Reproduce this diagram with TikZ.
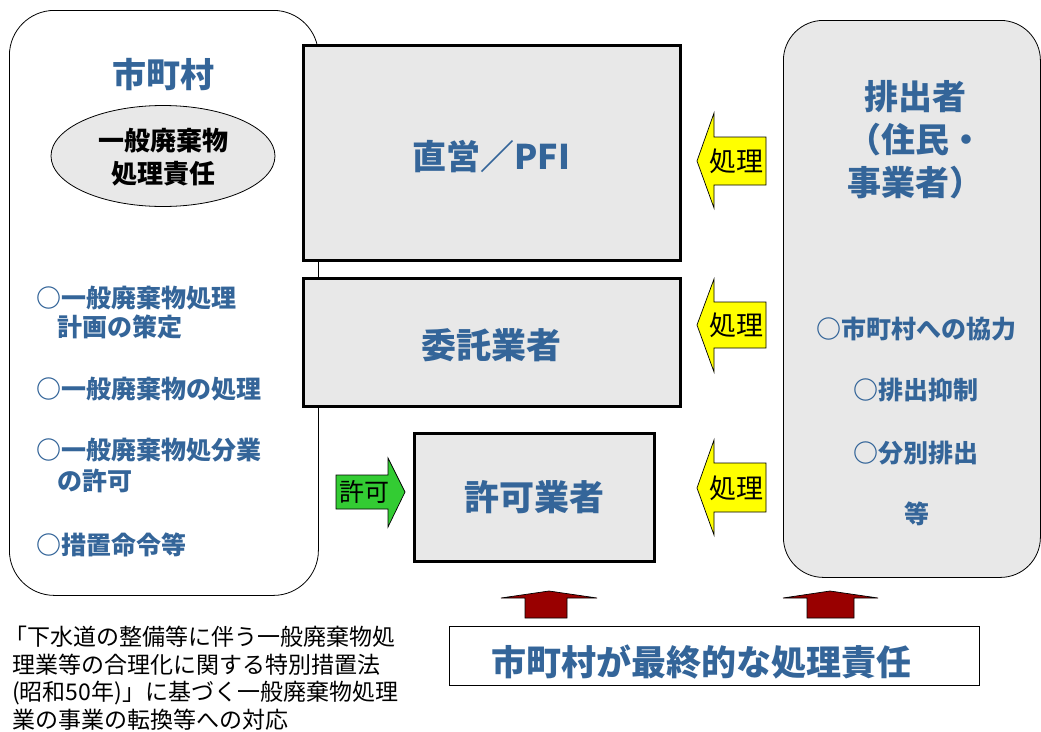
\documentclass[tikz,border=0pt]{standalone}
\usepackage{fontspec}
\usetikzlibrary{shapes.geometric}
\newfontfamily\jp{Noto Sans CJK JP}
\definecolor{txtblue}{RGB}{52,101,153}
\definecolor{boxgray}{RGB}{232,232,232}
\definecolor{arrowred}{RGB}{153,0,0}
\definecolor{arrowgreen}{RGB}{51,204,51}
\definecolor{arrowyellow}{RGB}{255,255,0}
\tikzset{
  outerbox/.style={draw=black, line width=0.8pt, anchor=north west, inner sep=0pt},
  procbox/.style={draw=black, fill=boxgray, line width=2.6pt, anchor=north west, inner sep=0pt},
  bluetxt/.style={text=txtblue, font=\jp\bfseries, inner sep=0pt},
  blacklbl/.style={text=black, font=\jp, inner sep=0pt},
  yarrow/.style={draw=black, fill=arrowyellow, line width=0.7pt, line join=miter},
  garrow/.style={draw=black, fill=arrowgreen, line width=0.7pt, line join=miter},
  rarrow/.style={draw=black, fill=arrowred, line width=0.7pt, line join=miter},
}
\newcommand{\fsz}[2]{\fontsize{#1}{#2}\selectfont}
\begin{document}
\begin{tikzpicture}[x=1pt,y=-1pt]
\useasboundingbox (0,0) rectangle (1041,731);
\fill[white] (0,0) rectangle (1041,731);

% left municipality box
\node[outerbox, fill=white, rounded corners=45pt, minimum width=309pt, minimum height=585pt] (muni) at (9,10) {};
\node[bluetxt, font=\jp\bfseries\fsz{34}{40}] (munititle) at (163,75) {市町村};
\node[draw=black, fill=boxgray, line width=0.8pt, ellipse, minimum width=224pt, minimum height=101pt, inner sep=0pt] (resp) at (163,156) {};
\node[inner sep=0pt, align=center, font=\jp\bfseries\fsz{26}{33}] (resptxt) at (163,157) {一般廃棄物\\処理責任};

\node[bluetxt, anchor=west, align=left, font=\jp\bfseries\fsz{25}{29}] (m1) at (36,312.5) {○一般廃棄物処理\\\hspace*{0.85em}計画の策定};
\node[bluetxt, anchor=west, font=\jp\bfseries\fsz{25}{29}] (m2) at (36,389) {○一般廃棄物の処理};
\node[bluetxt, anchor=west, align=left, font=\jp\bfseries\fsz{25}{31}] (m3) at (36,465.5) {○一般廃棄物処分業\\\hspace*{0.85em}の許可};
\node[bluetxt, anchor=west, font=\jp\bfseries\fsz{25}{29}] (m4) at (36,545) {○措置命令等};

% right emitters box
\node[outerbox, fill=boxgray, rounded corners=40pt, minimum width=257pt, minimum height=557pt] (emit) at (783,20) {};
\node[bluetxt, align=center, font=\jp\bfseries\fsz{34}{43}] (emittitle) at (915,140) {排出者\\（住民・\\事業者）};
\node[bluetxt, font=\jp\bfseries\fsz{25}{29}] (e1) at (916,329) {○市町村への協力};
\node[bluetxt, font=\jp\bfseries\fsz{25}{29}] (e2) at (916,390) {○排出抑制};
\node[bluetxt, font=\jp\bfseries\fsz{25}{29}] (e3) at (916,453) {○分別排出};
\node[bluetxt, font=\jp\bfseries\fsz{25}{29}] (e4) at (917,514) {等};

% process boxes
\node[procbox, minimum width=377pt, minimum height=215pt] (direct) at (302,44) {};
\node[bluetxt, font=\jp\bfseries\fsz{34}{40}] (directtxt) at (491,157) {直営／PFI};
\node[procbox, minimum width=377pt, minimum height=128pt] (consign) at (302,277) {};
\node[bluetxt, font=\jp\bfseries\fsz{35}{40}] (consigntxt) at (491,345) {委託業者};
\node[procbox, minimum width=240pt, minimum height=128pt] (permit) at (413,432) {};
\node[bluetxt, font=\jp\bfseries\fsz{35}{40}] (permittxt) at (534,497) {許可業者};

% yellow arrows (処理)
\draw[yarrow] (697,161) -- (714,113) -- (714,137) -- (766,137) -- (766,185) -- (714,185) -- (714,208) -- cycle;
\node[blacklbl, font=\jp\fsz{27}{30}] (y1) at (736,161) {処理};
\draw[yarrow] (697,325) -- (714,279) -- (714,302) -- (766,302) -- (766,348) -- (714,348) -- (714,372) -- cycle;
\node[blacklbl, font=\jp\fsz{27}{30}] (y2) at (736,325) {処理};
\draw[yarrow] (697,488) -- (714,440) -- (714,463) -- (766,463) -- (766,512) -- (714,512) -- (714,535) -- cycle;
\node[blacklbl, font=\jp\fsz{27}{30}] (y3) at (736,488) {処理};

% green arrow (許可)
\draw[garrow] (336,475) -- (388,475) -- (388,458) -- (405,492) -- (388,527) -- (388,509) -- (336,509) -- cycle;
\node[blacklbl, font=\jp\fsz{25}{30}] (g1) at (364,492) {許可};

% red arrows
\draw[rarrow] (525,618) -- (525,598) -- (501,598) -- (549,591) -- (597,598) -- (567,598) -- (567,618) -- cycle;
\draw[rarrow] (807,618) -- (807,598) -- (783,598) -- (830,591) -- (878,598) -- (854,598) -- (854,618) -- cycle;

% final responsibility box
\node[outerbox, fill=white, minimum width=530pt, minimum height=59pt] (final) at (449,626) {};
\node[bluetxt, font=\jp\bfseries\fsz{35}{40}] (finaltxt) at (701,662) {市町村が最終的な処理責任};

% note text
\node[anchor=west, align=left, inner sep=0pt, font=\jp\fsz{23}{27.5}] (note) at (12,678) {\hspace*{-8pt}「下水道の整備等に伴う一般廃棄物処\\理業等の合理化に関する特別措置法\\(昭和50年)」に基づく一般廃棄物処理\\業の事業の転換等への対応};
\end{tikzpicture}
\end{document}
